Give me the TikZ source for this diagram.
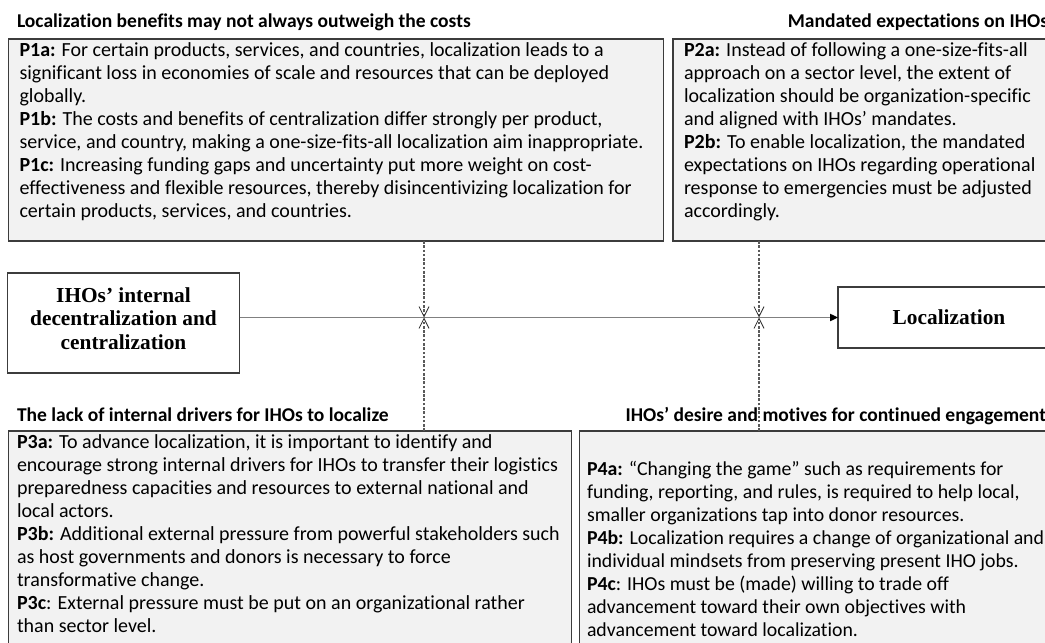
\documentclass[tikz,border=0pt]{standalone}
\usepackage{fontspec}
\setmainfont{Carlito}[Ligatures=NoCommon]
\newfontfamily\serifbold{Liberation Serif}
\usetikzlibrary{arrows.meta}

\definecolor{panelfill}{RGB}{242,242,242}
\definecolor{panelrule}{RGB}{60,60,60}
\definecolor{flowline}{RGB}{128,128,128}
\definecolor{modline}{RGB}{90,90,90}

\newcommand{\firstline}{\rule{0pt}{12pt}}

\begin{document}
\begin{tikzpicture}[x=0.75pt,y=-0.75pt,
  panel/.style={draw=panelrule, fill=panelfill, line width=1pt,
    anchor=north west, inner sep=0pt, outer sep=0pt},
  construct/.style={draw=panelrule, fill=white, line width=1pt,
    anchor=north west, inner sep=0pt, outer sep=0pt},
  constructtext/.style={inner sep=0pt, outer sep=0pt, align=center,
    font=\serifbold\bfseries\fontsize{16pt}{17.6pt}\selectfont},
  body/.style={anchor=north west, inner sep=0pt, outer sep=0pt, align=left,
    font=\fontsize{15pt}{17.25pt}\selectfont},
  heading/.style={inner sep=0pt, outer sep=0pt,
    font=\bfseries\fontsize{14.65pt}{17.25pt}\selectfont},
  flow/.style={draw=flowline, line width=0.9pt,
    -{Triangle[length=6pt,width=5.5pt,fill=black,color=black]}},
  moderator/.style={draw=modline, line width=0.8pt,
    dash pattern=on 2pt off 1.2pt,
    -{Straight Barb[length=7.5pt,width=7.5pt,line width=0.6pt,color=black!80]}}
]
\useasboundingbox (0,0) rectangle (1045,642);
\clip (0,0) rectangle (1045,642);

% headings above the four proposition panels
\node[heading, anchor=base west] (h1) at (17,28)
  {Localization benefits may not always outweigh the costs};
\node[heading, anchor=base east] (h2) at (1048,28)
  {Mandated expectations on IHOs};
\node[heading, anchor=base west] (h3) at (17,421)
  {The lack of internal drivers for IHOs to localize};
\node[heading, anchor=base east] (h4) at (1046,421)
  {IHOs’ desire and motives for continued engagement};

% proposition panels
\node[panel, minimum width={655*0.75pt}, minimum height={202*0.75pt}] (p1) at (8.5,39) {};
\node[panel, minimum width={400*0.75pt}, minimum height={202*0.75pt}] (p2) at (673,39) {};
\node[panel, minimum width={563*0.75pt}, minimum height={240*0.75pt}] (p3) at (8.5,431) {};
\node[panel, minimum width={500*0.75pt}, minimum height={240*0.75pt}] (p4) at (579.5,431) {};

\node[body] (t1) at (19.5,40) {\firstline\textbf{P1a:} For certain products, services, and countries, localization leads to a\\
significant loss in economies of scale and resources that can be deployed\\
globally.\\
\textbf{P1b:} The costs and benefits of centralization differ strongly per product,\\
service, and country, making a one-size-fits-all localization aim inappropriate.\\
\textbf{P1c:} Increasing funding gaps and uncertainty put more weight on cost-\\
effectiveness and flexible resources, thereby disincentivizing localization for\\
certain products, services, and countries.};

\node[body] (t2) at (684,40) {\firstline\textbf{P2a:} Instead of following a one-size-fits-all\\
approach on a sector level, the extent of\\
localization should be organization-specific\\
and aligned with IHOs’ mandates.\\
\textbf{P2b:} To enable localization, the mandated\\
expectations on IHOs regarding operational\\
response to emergencies must be adjusted\\
accordingly.};

\node[body] (t3) at (17,432) {\firstline\textbf{P3a:} To advance localization, it is important to identify and\\
encourage strong internal drivers for IHOs to transfer their logistics\\
preparedness capacities and resources to external national and\\
local actors.\\
\textbf{P3b:} Additional external pressure from powerful stakeholders such\\
as host governments and donors is necessary to force\\
transformative change.\\
\textbf{P3c}: External pressure must be put on an organizational rather\\
than sector level.};

\node[body, font=\fontsize{14.85pt}{17.25pt}\selectfont] (t4) at (587,459) {\firstline\textbf{P4a:} “Changing the game” such as requirements for\\
funding, reporting, and rules, is required to help local,\\
smaller organizations tap into donor resources.\\
\textbf{P4b:} Localization requires a change of organizational and\\
individual mindsets from preserving present IHO jobs.\\
\textbf{P4c}: IHOs must be (made) willing to trade off\\
advancement toward their own objectives with\\
advancement toward localization.};

% the two constructs
\node[construct, minimum width={232*0.75pt}, minimum height={100*0.75pt}] (src) at (7.5,273) {};
\node[constructtext] (srclabel) at ([yshift=3.3pt]src.center)
  {IHOs’ internal\\ decentralization and\\ centralization};
\node[construct, minimum width={222*0.75pt}, minimum height={61*0.75pt}] (loc) at (838,287) {};
\node[constructtext] (loclabel) at (loc.center) {Localization};

% main relationship and moderating effects
\coordinate (m1) at (424,317.5);
\coordinate (m2) at (759,317.5);
\draw[flow] (src.east |- loc.west) -- (loc.west);
\draw[moderator] (m1 |- p1.south) -- (m1);
\draw[moderator] (m1 |- p3.north) -- (m1);
\draw[moderator] (m2 |- p2.south) -- (m2);
\draw[moderator] (m2 |- p4.north) -- (m2);
\end{tikzpicture}
\end{document}
